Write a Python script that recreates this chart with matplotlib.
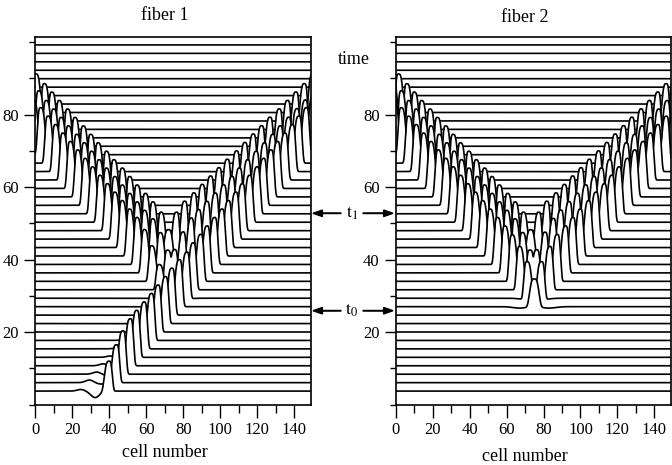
import numpy as np
import matplotlib.pyplot as plt
from matplotlib.patches import FancyArrow
from matplotlib.ticker import MultipleLocator

plt.rcParams['font.family'] = 'Liberation Serif'
plt.rcParams['mathtext.fontset'] = 'stix'

# baseline (time) of every trace, bottom to top
times = [3.70, 6.03, 8.36, 10.69, 13.02, 15.35, 17.68, 20.01, 22.34, 24.67,
         27.00, 29.33, 31.66, 33.99, 36.32, 38.65, 40.98, 43.31, 45.64, 47.97,
         50.30, 52.63, 54.96, 57.29, 59.62, 61.95, 64.28, 66.61, 68.94, 71.27,
         73.60, 75.93, 78.26, 80.59, 82.92, 85.25, 87.58, 89.91, 92.24, 94.57,
         96.90, 99.23]
full_height = 13.0

# fiber 1: pulse centres (cell number) on consecutive traces, first trace index
f1_a_start, f1_a_dir = 0, 1
f1_a_centres = [40, 44, 47.5, 51.5, 55, 59, 63, 66.5, 70.5, 74, 78, 82, 85.5,
                89.5, 93, 97, 101, 104.5, 108.5, 112, 116, 120, 123.5, 127.5,
                131, 135, 139, 142.5, 146.5, 150, 154]
f1_a_rise = [8.3, 10.5, 12.0]

f1_b_start, f1_b_dir = 11, -1
f1_b_centres = [71, 67, 63, 59, 55, 51, 47, 43, 39, 35, 31, 27, 23, 19, 15, 11,
                7, 3, -1]
f1_b_rise = [4.0, 7.0, 10.0, 12.0]

f1_ml_start, f1_ml_dir = 13, -1
f1_ml_centres = [71.5, 67.5, 63.5, 59, 55, 51, 47, 43, 38.5, 34.5, 30.5, 26.5,
                 22.5, 18, 14, 10, 6, 2, -2.5]
f1_mr_start, f1_mr_dir = 13, 1
f1_mr_centres = [75.5, 80, 84.5, 88.5, 93, 97.5, 102, 106.5, 110.5, 115, 119.5,
                 124, 128.5, 132.5, 137, 141.5, 146, 150.5, 154.5]
f1_m_rise = [9.0, 11.5]

f1_vl_start, f1_vl_dir = 15, -1
f1_vl_centres = [72, 68, 63.5, 59.5, 55, 51, 47, 42.5, 38.5, 34, 30, 26, 21.5,
                 17.5, 13, 9, 5, 0.5, -3.5]
f1_vr_start, f1_vr_dir = 15, 1
f1_vr_centres = [72, 76.5, 81, 86, 90.5, 95, 99.5, 104, 109, 113.5, 118, 122.5,
                 127, 132, 136.5, 141, 145.5, 150, 155]
f1_v_rise = [10.0, 12.5]

# fiber 1: small wake bumps and the dip left by the stimulus
f1_small_traces = [0, 0, 1, 2, 3, 4, 5, 6]
f1_small_centres = [25, 32.5, 29.5, 33.5, 37, 41, 44.5, 48]
f1_small_heights = [0.5, -1.4, 0.8, 0.7, 0.6, 0.45, 0.3, 0.2]

# fiber 2
f2_sl_start, f2_sl_dir = 10, -1
f2_sl_centres = [75, 71, 67, 63, 59, 55, 51, 47, 43, 39, 35, 31, 27, 23, 19, 15,
                 11, 7, 3, -1]
f2_sr_start, f2_sr_dir = 10, 1
f2_sr_centres = [75, 79, 83.5, 87.5, 92, 96, 100, 104.5, 108.5, 113, 117, 121,
                 125.5, 129.5, 134, 138, 142, 146.5, 150.5, 155]
f2_s_rise = [7.7, 10.5, 12.0]

f2_ml_start, f2_ml_dir = 13, -1
f2_ml_centres = [72.5, 68.5, 64.5, 60, 56, 52, 48, 44, 39.5, 35.5, 31.5, 27.5,
                 23.5, 19, 15, 11, 7, 3, -1.5]
f2_mr_start, f2_mr_dir = 13, 1
f2_mr_centres = [76.5, 81, 85.5, 89.5, 94, 98.5, 103, 107.5, 111.5, 116, 120.5,
                 125, 129.5, 133.5, 138, 142.5, 147, 151.5, 155.5]
f2_m_rise = [9.0, 11.5]

f2_vl_start, f2_vl_dir = 15, -1
f2_vl_centres = [73, 69, 64.5, 60.5, 56, 52, 48, 43.5, 39.5, 35, 31, 27, 22.5,
                 18.5, 14, 10, 6, 1.5, -2.5]
f2_vr_start, f2_vr_dir = 15, 1
f2_vr_centres = [73, 77.5, 82, 87, 91.5, 96, 100.5, 105, 110, 114.5, 119, 123.5,
                 128, 133, 137.5, 142, 146.5, 151, 156]
f2_v_rise = [10.0, 12.5]

fiber1_tracks = [
    (f1_a_start, f1_a_dir, f1_a_centres, f1_a_rise),
    (f1_b_start, f1_b_dir, f1_b_centres, f1_b_rise),
    (f1_ml_start, f1_ml_dir, f1_ml_centres, f1_m_rise),
    (f1_mr_start, f1_mr_dir, f1_mr_centres, f1_m_rise),
    (f1_vl_start, f1_vl_dir, f1_vl_centres, f1_v_rise),
    (f1_vr_start, f1_vr_dir, f1_vr_centres, f1_v_rise),
]
fiber2_tracks = [
    (f2_sl_start, f2_sl_dir, f2_sl_centres, f2_s_rise),
    (f2_sr_start, f2_sr_dir, f2_sr_centres, f2_s_rise),
    (f2_ml_start, f2_ml_dir, f2_ml_centres, f2_m_rise),
    (f2_mr_start, f2_mr_dir, f2_mr_centres, f2_m_rise),
    (f2_vl_start, f2_vl_dir, f2_vl_centres, f2_v_rise),
    (f2_vr_start, f2_vr_dir, f2_vr_centres, f2_v_rise),
]
fiber1_small = (f1_small_traces, f1_small_centres, f1_small_heights)
fiber2_small = ([], [], [])

x = np.linspace(0, 149, 1500)


def pulse(c, h, direction):
    # steep front, slightly slower back, small undershoot behind
    d = (x - c) * direction
    w = np.where(d > 0, 2.0, 2.9)
    up = h * np.exp(-np.abs(d / w) ** 3.5)
    tail = -0.4 * np.exp(-((d + 8.0) / 5.0) ** 2)
    return up, tail


def trace_profile(k, tracks, small):
    up = np.zeros_like(x)
    down = np.zeros_like(x)
    for start, direction, centres, rise in tracks:
        j = k - start
        if 0 <= j < len(centres):
            h = rise[j] if j < len(rise) else full_height
            u, t = pulse(centres[j], h, direction)
            up = np.maximum(up, u)
            down = np.minimum(down, t)
    for kk, c, h in zip(*small):
        if kk == k:
            up = up + h * np.exp(-((x - c) / 3.0) ** 2)
    return up + down


def draw(ax, tracks, small):
    n = len(times)
    for k in range(n - 1, -1, -1):
        y = times[k] + trace_profile(k, tracks, small)
        z = 10 + (n - k) * 2
        ax.fill_between(x, -5, y, color='white', zorder=z, lw=0)
        ax.plot(x, y, color='black', lw=1.2, zorder=z + 1)
    ax.set_xlim(0, 149)
    ax.set_ylim(0, 101.5)
    for s in ax.spines.values():
        s.set_zorder(1000)
        s.set_linewidth(1.2)
    ax.xaxis.set_major_locator(MultipleLocator(20))
    ax.xaxis.set_minor_locator(MultipleLocator(10))
    ax.set_yticks([20, 40, 60, 80])
    ax.yaxis.set_minor_locator(MultipleLocator(10))
    ax.tick_params(which='major', length=8, width=1, labelsize=12)
    ax.tick_params(which='minor', length=4, width=1)
    ax.tick_params(axis='x', which='major', length=9)
    ax.tick_params(axis='x', which='minor', length=6)


fig = plt.figure(figsize=(6.72, 4.65), dpi=100)
ax1 = fig.add_axes([35 / 672, 1 - 404.5 / 465, 276 / 672, 367.8 / 465])
ax2 = fig.add_axes([395.7 / 672, 1 - 404.5 / 465, 275.3 / 672, 367.8 / 465])
draw(ax1, fiber1_tracks, fiber1_small)
draw(ax2, fiber2_tracks, fiber2_small)

fig.text(165 / 672, 1 - 16 / 465, 'fiber 1', ha='center', va='center', fontsize=13)
fig.text(525 / 672, 1 - 17 / 465, 'fiber 2', ha='center', va='center', fontsize=13)
fig.text(165 / 672, 1 - 452 / 465, 'cell number', ha='center', va='center', fontsize=13)
fig.text(525 / 672, 1 - 456 / 465, 'cell number', ha='center', va='center', fontsize=13)
fig.text(354 / 672, 1 - 60 / 465, 'time', ha='center', va='center', fontsize=13)

for ty, lab in [(213.3, r'$\mathrm{t}_1$'), (310.7, r'$\mathrm{t}_0$')]:
    yf = 1 - ty / 465
    fig.text(352 / 672, yf, lab, ha='center', va='center', fontsize=13)
    fig.patches.append(FancyArrow(
        341 / 672, yf, -28 / 672, 0, width=0.001, head_width=0.014, head_length=0.014,
        length_includes_head=True, color='black', transform=fig.transFigure, figure=fig))
    fig.patches.append(FancyArrow(
        363 / 672, yf, 30 / 672, 0, width=0.001, head_width=0.014, head_length=0.014,
        length_includes_head=True, color='black', transform=fig.transFigure, figure=fig))

fig.savefig('out.png', dpi=100)
